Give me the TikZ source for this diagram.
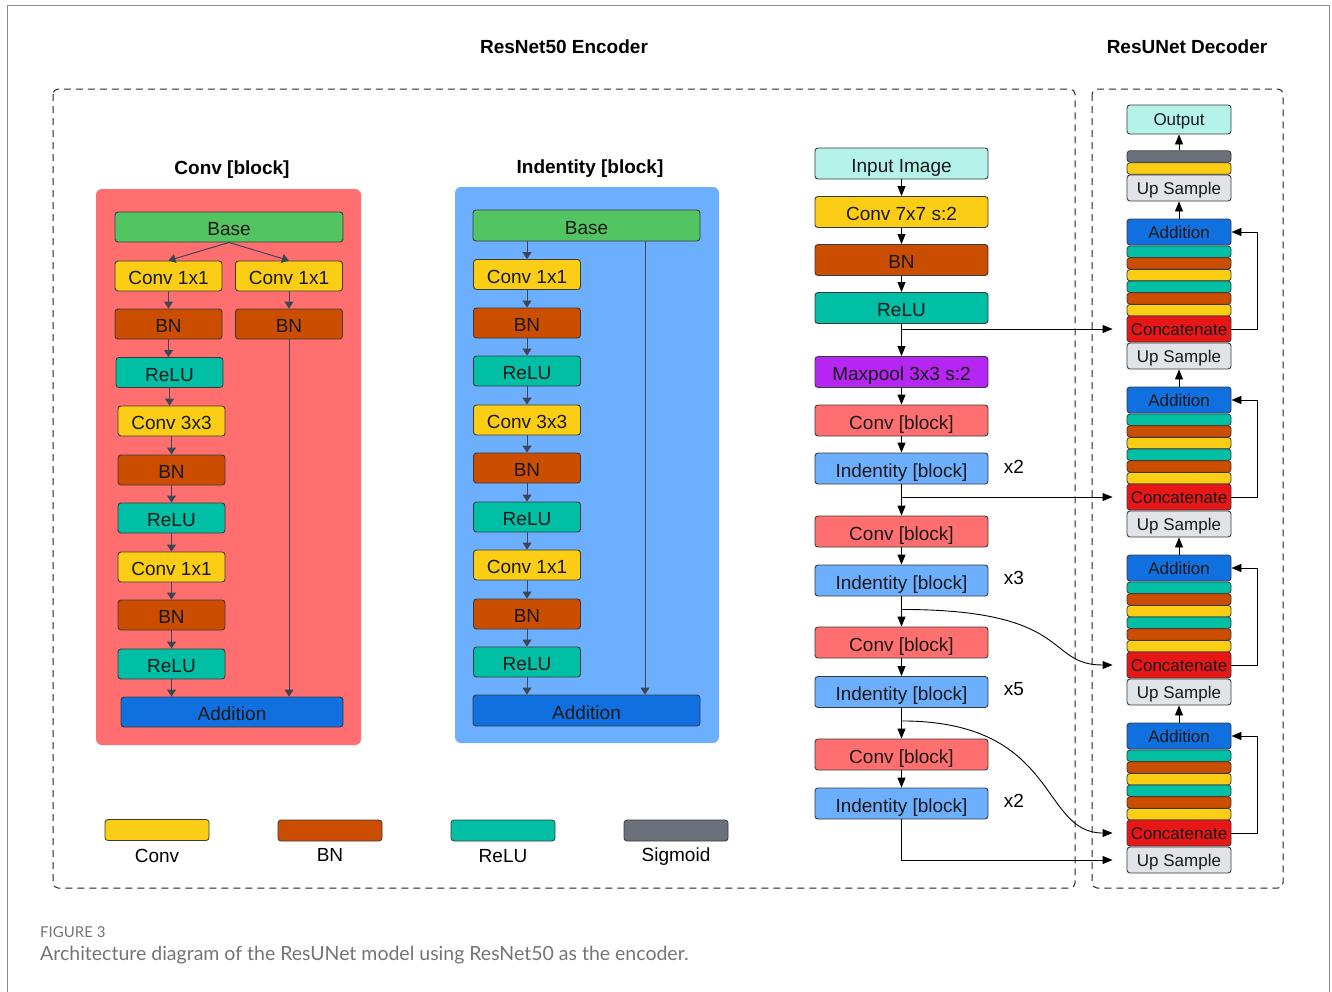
\documentclass[tikz,border=0pt]{standalone}
\usepackage{fontspec}
\setmainfont{Liberation Sans}
\newfontfamily\capfont{Lato}
\usetikzlibrary{arrows.meta,calc}
\definecolor{cyel}{HTML}{FBCD14}
\definecolor{corg}{HTML}{CA4D00}
\definecolor{cteal}{HTML}{00BFA5}
\definecolor{cgray}{HTML}{6C707C}
\definecolor{cgreen}{HTML}{53C462}
\definecolor{cblue}{HTML}{1070E0}
\definecolor{csalmon}{HTML}{FF6F6F}
\definecolor{clblue}{HTML}{6CAFFF}
\definecolor{cpurple}{HTML}{B526F2}
\definecolor{ccyan}{HTML}{B5F2EA}
\definecolor{cup}{HTML}{E0E3E8}
\definecolor{cred}{HTML}{E81717}
\definecolor{cbd}{HTML}{3A3A3A}
\definecolor{carrow}{HTML}{3F4653}
\definecolor{ccap}{HTML}{747474}
\begin{document}
\begin{tikzpicture}[x=1pt,y=-1pt,
  box/.style={draw=cbd,line width=0.9pt,rounded corners=3pt,inner sep=0pt,text=black!90,font=\fontsize{19}{22}\selectfont,text height=17pt,text depth=0pt},
  lbox/.style={box,minimum width=107pt,minimum height=30pt},
  mbox/.style={box,minimum width=173pt,minimum height=31pt},
  dbox/.style={box,minimum width=104pt,minimum height=26pt,font=\fontsize{17}{20}\selectfont,text height=12.2pt,text depth=0pt},
  bar/.style={draw=cbd,line width=0.8pt,rounded corners=3pt,inner sep=0pt,minimum width=104pt,minimum height=11.5pt},
  legbox/.style={draw=cbd,line width=0.8pt,rounded corners=3pt,inner sep=0pt,minimum width=104pt,minimum height=21pt},
  plain/.style={inner sep=0pt,font=\fontsize{19}{22}\selectfont,text height=13.6pt,text depth=0pt},
  title/.style={inner sep=0pt,font=\bfseries\fontsize{19}{22}\selectfont,text height=13.6pt,text depth=0pt},
  iarr/.style={draw=carrow,line width=1pt,-{Triangle[width=9pt,length=7pt]}},
  darr/.style={draw=black,line width=0.9pt,-{Triangle[width=8pt,length=10pt]}},
  dashbox/.style={draw=black!85,line width=1pt,dash pattern=on 7pt off 5pt,rounded corners=5pt}
]
\useasboundingbox (0,0) rectangle (1332,991);
% outer frame
\draw[black!45,line width=1pt] (7,995) -- (7,5) -- (1329,5) -- (1329,995);

% titles
\node[title] (tenc) at (564,47) {ResNet50 Encoder};
\node[title] (tdec) at (1187,47) {ResUNet Decoder};

% dashed regions
\draw[dashbox] (53,89) rectangle (1075,888);
\draw[dashbox] (1092,89) rectangle (1283,888);

% ---------- Conv block ----------
\node[title] (tconv) at (232,168) {Conv [block]};
\fill[csalmon,rounded corners=6pt] (96,189) rectangle (361,745);
\node[box,fill=cgreen,minimum width=228pt,minimum height=30pt] (cbase) at (229,227) {Base};
\node[lbox,fill=cyel] (cc1) at (168.5,276) {Conv 1x1};
\node[lbox,fill=cyel] (cc1r) at (289,276) {Conv 1x1};
\node[lbox,fill=corg] (cb1) at (168.5,324) {BN};
\node[lbox,fill=corg] (cb1r) at (289,324) {BN};
\node[lbox,fill=cteal] (cr1) at (169.5,372.5) {ReLU};
\node[lbox,fill=cyel] (cc2) at (171.5,421) {Conv 3x3};
\node[lbox,fill=corg] (cb2) at (171.5,470) {BN};
\node[lbox,fill=cteal] (cr2) at (171.5,518) {ReLU};
\node[lbox,fill=cyel] (cc3) at (171.5,567) {Conv 1x1};
\node[lbox,fill=corg] (cb3) at (171.5,615) {BN};
\node[lbox,fill=cteal] (cr3) at (171.5,664) {ReLU};
\node[box,fill=cblue,minimum width=222pt,minimum height=30pt] (cadd) at (232,712) {Addition};

\draw[iarr] (cbase.south) -- (cc1.north);
\draw[iarr] (cbase.south) -- (cc1r.north);
\draw[iarr] (cc1.south) -- (cc1.south |- cb1.north);
\draw[iarr] (cc1r.south) -- (cc1r.south |- cb1r.north);
\draw[iarr] (cb1.south) -- (cb1.south |- cr1.north);
\draw[iarr] (cr1.south) -- (cr1.south |- cc2.north);
\draw[iarr] (cc2.south) -- (cc2.south |- cb2.north);
\draw[iarr] (cb2.south) -- (cb2.south |- cr2.north);
\draw[iarr] (cr2.south) -- (cr2.south |- cc3.north);
\draw[iarr] (cc3.south) -- (cc3.south |- cb3.north);
\draw[iarr] (cb3.south) -- (cb3.south |- cr3.north);
\draw[iarr] (cr3.south) -- (cr3.south |- cadd.north);
\draw[iarr] (cb1r.south) -- (cb1r.south |- cadd.north);

% ---------- Identity block ----------
\node[title] (tid) at (590,167) {Indentity [block]};
\fill[clblue,rounded corners=6pt] (455,187) rectangle (719,743);
\node[box,fill=cgreen,minimum width=227pt,minimum height=31pt] (ibase) at (586.5,225.5) {Base};
\node[lbox,fill=cyel] (ic1) at (527,274.5) {Conv 1x1};
\node[lbox,fill=corg] (ib1) at (527,323) {BN};
\node[lbox,fill=cteal] (ir1) at (527,371) {ReLU};
\node[lbox,fill=cyel] (ic2) at (527,420) {Conv 3x3};
\node[lbox,fill=corg] (ib2) at (527,468) {BN};
\node[lbox,fill=cteal] (ir2) at (527,517) {ReLU};
\node[lbox,fill=cyel] (ic3) at (527,565) {Conv 1x1};
\node[lbox,fill=corg] (ib3) at (527,614) {BN};
\node[lbox,fill=cteal] (ir3) at (527,662) {ReLU};
\node[box,fill=cblue,minimum width=227pt,minimum height=31pt] (iadd) at (586.5,710.5) {Addition};
\coordinate (iskip) at (645,0);

\draw[iarr] (ic1.north |- ibase.south) -- (ic1.north);
\draw[iarr] (ic1.south) -- (ib1.north);
\draw[iarr] (ib1.south) -- (ir1.north);
\draw[iarr] (ir1.south) -- (ic2.north);
\draw[iarr] (ic2.south) -- (ib2.north);
\draw[iarr] (ib2.south) -- (ir2.north);
\draw[iarr] (ir2.south) -- (ic3.north);
\draw[iarr] (ic3.south) -- (ib3.north);
\draw[iarr] (ib3.south) -- (ir3.north);
\draw[iarr] (ir3.south) -- (ir3.south |- iadd.north);
\draw[iarr] (ibase.south -| iskip) -- (iadd.north -| iskip);

% ---------- Encoder column ----------
\node[mbox,fill=ccyan] (inp) at (901.5,163.5) {Input Image};
\node[mbox,fill=cyel] (c77) at (901.5,212) {Conv 7x7 s:2};
\node[mbox,fill=corg] (mbn) at (901.5,260) {BN};
\node[mbox,fill=cteal] (mrelu) at (901.5,308) {ReLU};
\node[mbox,fill=cpurple] (mpool) at (901.5,372) {Maxpool 3x3 s:2};
\node[mbox,fill=csalmon] (cv1) at (901.5,420.5) {Conv [block]};
\node[mbox,fill=clblue] (id1) at (901.5,468.5) {Indentity [block]};
\node[mbox,fill=csalmon] (cv2) at (901.5,531.5) {Conv [block]};
\node[mbox,fill=clblue] (id2) at (901.5,580.5) {Indentity [block]};
\node[mbox,fill=csalmon] (cv3) at (901.5,642.5) {Conv [block]};
\node[mbox,fill=clblue] (id3) at (901.5,692) {Indentity [block]};
\node[mbox,fill=csalmon] (cv4) at (901.5,754.5) {Conv [block]};
\node[mbox,fill=clblue] (id4) at (901.5,803.5) {Indentity [block]};
\node[plain] (m1) at (1014,467) {x2};
\node[plain] (m2) at (1014,578) {x3};
\node[plain] (m3) at (1014,689) {x5};
\node[plain] (m4) at (1014,801) {x2};

\draw[darr] (inp.south) -- (c77.north);
\draw[darr] (c77.south) -- (mbn.north);
\draw[darr] (mbn.south) -- (mrelu.north);
\draw[darr] (mrelu.south) -- (mpool.north);
\draw[darr] (mpool.south) -- (cv1.north);
\draw[darr] (cv1.south) -- (id1.north);
\draw[darr] (id1.south) -- (cv2.north);
\draw[darr] (cv2.south) -- (id2.north);
\draw[darr] (id2.south) -- (cv3.north);
\draw[darr] (cv3.south) -- (id3.north);
\draw[darr] (id3.south) -- (cv4.north);
\draw[darr] (cv4.south) -- (id4.north);

% ---------- Decoder ----------
\node[dbox,fill=ccyan,minimum height=29pt] (out) at (1179,119.5) {Output};
\node[bar,fill=cgray] (sig) at (1179,156.5) {};
\node[bar,fill=cyel] (ybar) at (1179,168.5) {};
\node[dbox,fill=cup] (uptop) at (1179,188) {Up Sample};
\foreach \k in {0,1,2,3}{
  \pgfmathsetmacro{\t}{219+168*\k}
  \node[dbox,fill=cblue] (add\k) at (1179,\t+13) {Addition};
  \foreach \i/\c in {0/cteal,1/corg,2/cyel,3/cteal,4/corg,5/cyel}{
    \node[bar,fill=\c] (bar\k-\i) at (1179,\t+32.8+11.67*\i) {};
  }
  \node[dbox,fill=cred] (cat\k) at (1179,\t+110) {Concatenate};
  \node[dbox,fill=cup] (up\k) at (1179,\t+137) {Up Sample};
  \draw[darr] (cat\k.east) -- ++(26,0) |- (add\k.east);
}
\draw[darr] (sig.north) -- (out.south);
\draw[darr] (add0.north) -- (uptop.south);
\foreach \k/\n in {0/1,1/2,2/3}{
  \draw[darr] (add\n.north) -- (up\k.south);
}

% ---------- skip connections ----------
\coordinate (b3) at ($(id2.south)+(0,13)$);
\coordinate (b4) at ($(id3.south)+(0,13)$);
\draw[darr] (mrelu.south |- cat0.west) -- ([xshift=-14pt]cat0.west);
\draw[darr] (id1.south |- cat1.west) -- ([xshift=-14pt]cat1.west);
\draw[darr] (b3) .. controls +(173,0) and +(-68,0) .. ([xshift=-14pt]cat2.west);
\draw[darr] (b4) .. controls +(158,0) and +(-73,0) .. ([xshift=-14pt]cat3.west);
\draw[darr] (id4.south) |- ([xshift=-14pt]up3.west);

% ---------- legend ----------
\node[legbox,fill=cyel] (lg1) at (157,830) {};
\node[legbox,fill=corg] (lg2) at (330,830.5) {};
\node[legbox,fill=cteal] (lg3) at (503,830.5) {};
\node[legbox,fill=cgray] (lg4) at (676,830.5) {};
\node[plain] (lt1) at (157,856) {Conv};
\node[plain] (lt2) at (330,855) {BN};
\node[plain] (lt3) at (503,856) {ReLU};
\node[plain] (lt4) at (676,855) {Sigmoid};

% ---------- caption ----------
\node[anchor=west,inner sep=0pt,text=ccap,font=\capfont\fontsize{15}{17}\selectfont] (fig) at (40,932) {FIGURE 3};
\node[anchor=west,inner sep=0pt,text=ccap,font=\capfont\fontsize{19.5}{22}\selectfont] (cap) at (40,955) {Architecture diagram of the ResUNet model using ResNet50 as the encoder.};
\end{tikzpicture}
\end{document}
